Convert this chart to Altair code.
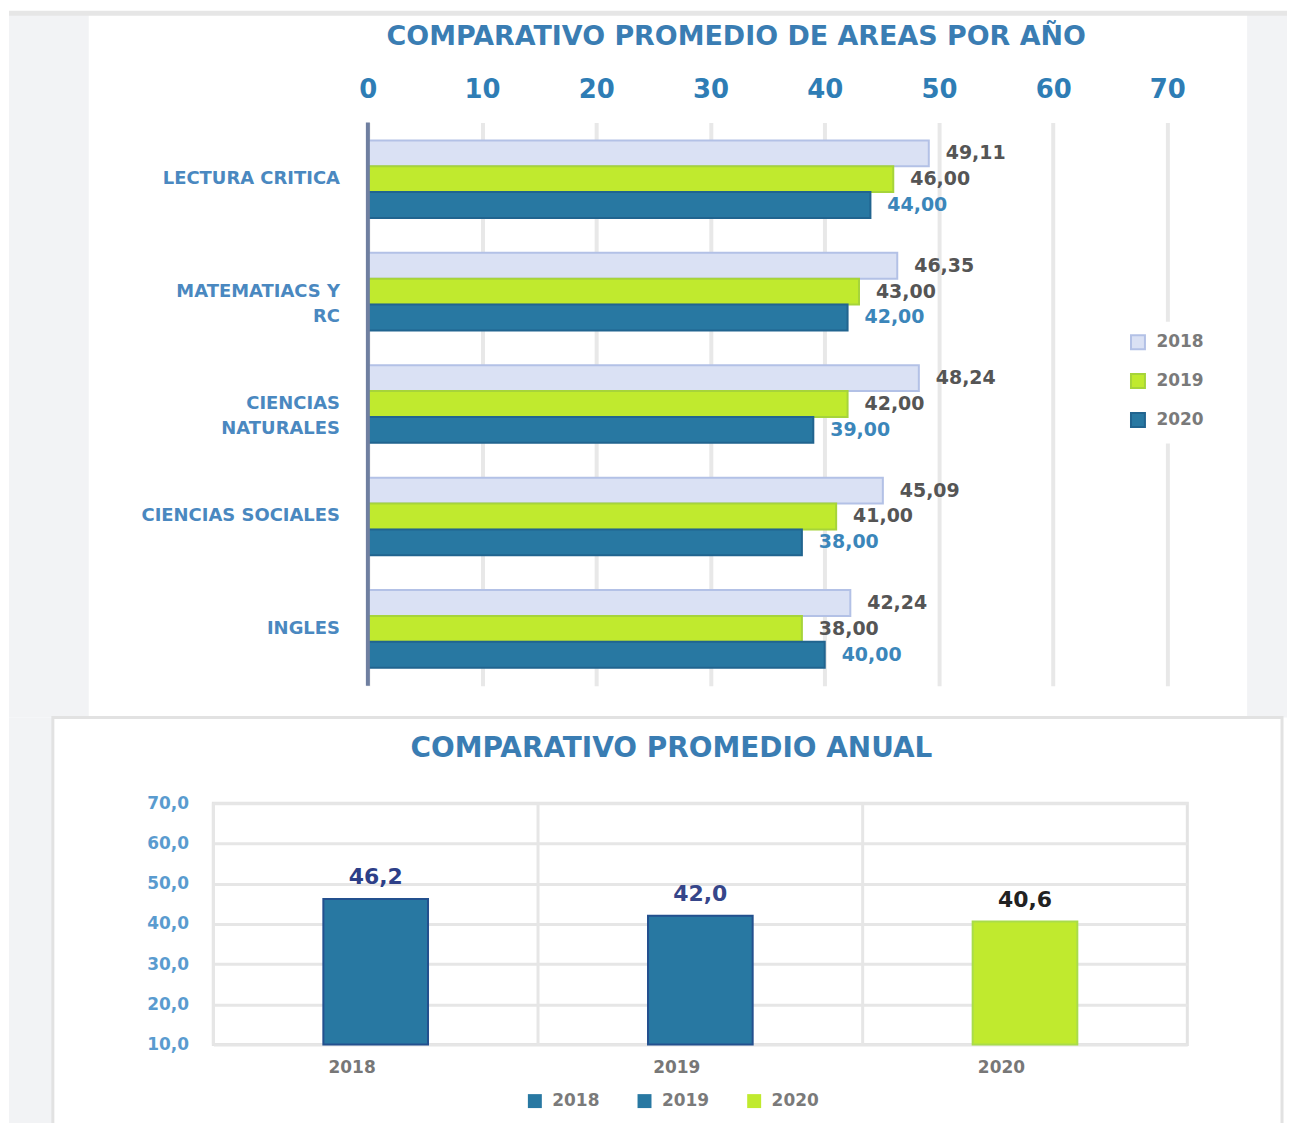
import altair as alt
import pandas as pd

# ---------------- data ----------------
categories = ["LECTURA CRITICA", "MATEMATIACS Y RC", "CIENCIAS NATURALES", "CIENCIAS SOCIALES", "INGLES"]
category_labels = ["LECTURA CRITICA", "MATEMATIACS Y\nRC", "CIENCIAS\nNATURALES", "CIENCIAS SOCIALES", "INGLES"]
years = ["2018", "2019", "2020"]
values_2018 = [49.11, 46.35, 48.24, 45.09, 42.24]
values_2019 = [46.00, 43.00, 42.00, 41.00, 38.00]
values_2020 = [44.00, 42.00, 39.00, 38.00, 40.00]
x_ticks_top = [0, 10, 20, 30, 40, 50, 60, 70]

annual_years = ["2018", "2019", "2020"]
annual_values = [46.2, 42.0, 40.6]
y_ticks_annual = [10, 20, 30, 40, 50, 60, 70]

# ---------------- styles ----------------
FONT = "DejaVu Sans"
top_fill = ["#dae1f4", "#c0ea2e", "#2878a2"]
top_stroke = ["#b3c1e6", "#a6d43a", "#21648f"]
top_label_colors = ["#555555", "#555555", "#3b86ba"]
ann_fill = ["#2878a2", "#2878a2", "#c0ea2e"]
ann_stroke = ["#23508e", "#23508e", "#a9dc4a"]
ann_label_colors = ["#2d3f88", "#36468a", "#222222"]

rows = []
for yr, vals in zip(years, [values_2018, values_2019, values_2020]):
    for c, v in zip(categories, vals):
        rows.append({"cat": c, "year": yr, "value": v})
df_top = pd.DataFrame(rows)
df_cats = pd.DataFrame({"cat": categories, "label": category_labels})
df_ann = pd.DataFrame({"year": annual_years, "value": annual_values})
one = pd.DataFrame({"k": [0]})

# ---------------- top chart ----------------
xs = alt.Scale(domain=[0, 70], range=[155, 957], nice=False, zero=True)
x_axis = alt.Axis(orient="top", values=x_ticks_top, domain=False, ticks=False, grid=True,
                  gridColor="#e8e8e8", gridWidth=4, labelFont=FONT, labelFontSize=26,
                  labelFontWeight="bold", labelColor="#2e7db5", labelPadding=20,
                  labelFlush=False, labelOverlap=False)
ys = alt.Scale(domain=categories, paddingInner=0.31, paddingOuter=0.16)
yenc = alt.Y("cat:N", sort=categories, scale=ys, axis=None, title=None)
yoff = alt.YOffset("year:N", sort=years, scale=alt.Scale(domain=years))

legend_top = alt.Legend(orient="none", legendX=907, legendY=200, direction="vertical", title=None,
                        symbolType="square", symbolSize=196, symbolStrokeWidth=2,
                        labelFont=FONT, labelFontSize=17, labelFontWeight="bold",
                        labelColor="#7a7a7a", rowPadding=16, padding=12, fillColor="white",
                        labelOffset=10)

strip_left = alt.Chart(one).mark_rect(color="#f2f3f5").encode(
    x=alt.value(-205), x2=alt.value(-125), y=alt.value(-111), y2=alt.value(597))
strip_left_low = alt.Chart(one).mark_rect(color="#f2f3f5").encode(
    x=alt.value(-205), x2=alt.value(-161), y=alt.value(597), y2=alt.value(1010))
strip_right = alt.Chart(one).mark_rect(color="#f2f3f5").encode(
    x=alt.value(1037), x2=alt.value(1077), y=alt.value(-111), y2=alt.value(597))
top_line = alt.Chart(one).mark_rect(color="#e6e6e6").encode(
    x=alt.value(-205), x2=alt.value(1077), y=alt.value(-112), y2=alt.value(-107))

bars_top = alt.Chart(df_top).mark_bar(strokeWidth=2).encode(
    x=alt.X("value:Q", scale=xs, axis=x_axis, title=None),
    y=yenc,
    yOffset=yoff,
    fill=alt.Fill("year:N", sort=years, scale=alt.Scale(domain=years, range=top_fill), legend=legend_top),
    stroke=alt.Stroke("year:N", sort=years, scale=alt.Scale(domain=years, range=top_stroke), legend=legend_top),
)

axis_rule = alt.Chart(one).mark_rule(color="#6f7fa0", strokeWidth=4).encode(x=alt.datum(0))

labels_top = alt.Chart(df_top).transform_calculate(
    lbl="replace(format(datum.value, '.2f'), '.', ',')"
).mark_text(align="left", baseline="middle", dx=17, font=FONT, fontSize=19, fontWeight="bold").encode(
    x=alt.X("value:Q"),
    y=yenc,
    yOffset=yoff,
    text="lbl:N",
    color=alt.Color("year:N", sort=years, scale=alt.Scale(domain=years, range=top_label_colors), legend=None),
)

cat_text = alt.Chart(df_cats).mark_text(align="right", baseline="middle", dx=-28, lineBreak="\n",
                                        lineHeight=25, font=FONT, fontSize=18, fontWeight="bold",
                                        color="#4a88c0").encode(
    x=alt.datum(0), y=alt.Y("cat:N", sort=categories), text="label:N")

top = alt.layer(strip_left, strip_left_low, strip_right, top_line, bars_top, axis_rule, labels_top,
                cat_text).resolve_scale(
    color="independent"
).properties(
    width=977, height=565,
    title=alt.TitleParams("COMPARATIVO PROMEDIO DE AREAS POR AÑO", font=FONT, fontSize=27,
                          fontWeight="bold", color="#3a7db3", dx=36, offset=-40),
)

# ---------------- bottom chart ----------------
bx = alt.X("year:N", sort=annual_years,
           scale=alt.Scale(domain=annual_years, paddingInner=0, paddingOuter=0),
           axis=alt.Axis(labelAngle=0, ticks=False, domain=False, grid=False, labelFont=FONT,
                         labelFontSize=17, labelFontWeight="bold", labelColor="#777777",
                         labelPadding=23),
           title=None)
by = alt.Y("value:Q", scale=alt.Scale(domain=[10, 70], nice=False, zero=False),
           axis=alt.Axis(values=y_ticks_annual, labelExpr="replace(format(datum.value, '.1f'), '.', ',')",
                         grid=True, gridColor="#e6e6e6", gridWidth=3, ticks=False, domain=False,
                         labelFont=FONT, labelFontSize=17, labelFontWeight="bold",
                         labelColor="#5a9bcf", labelPadding=25),
           title=None)

legend_bot = alt.Legend(orient="none", legendX=314, legendY=290, direction="horizontal", title=None,
                        symbolType="square", symbolSize=196, symbolStrokeWidth=0,
                        labelFont=FONT, labelFontSize=17, labelFontWeight="bold",
                        labelColor="#7a7a7a", columnPadding=36, labelOffset=9)

panel = alt.Chart(one).mark_rect(fillOpacity=0, stroke="#e2e2e2", strokeWidth=3).encode(
    x=alt.value(-161), x2=alt.value(1072), y=alt.value(-86), y2=alt.value(330))

vgrid = alt.Chart(df_ann).mark_rule(color="#e6e6e6", strokeWidth=3).encode(
    x=alt.X("year:N", sort=annual_years, bandPosition=0))

bars_bot = alt.Chart(df_ann).mark_bar(size=105, strokeWidth=2).encode(
    x=bx, y=by, y2=alt.datum(10),
    fill=alt.Fill("year:N", sort=annual_years, scale=alt.Scale(domain=annual_years, range=ann_fill), legend=legend_bot),
    stroke=alt.Stroke("year:N", sort=annual_years, scale=alt.Scale(domain=annual_years, range=ann_stroke), legend=None),
)

labels_bot = alt.Chart(df_ann).transform_calculate(
    lbl="replace(format(datum.value, '.1f'), '.', ',')"
).mark_text(baseline="bottom", dy=-10, font=FONT, fontSize=22, fontWeight="bold").encode(
    x=alt.X("year:N", sort=annual_years), y=alt.Y("value:Q"), text="lbl:N",
    color=alt.Color("year:N", sort=annual_years, scale=alt.Scale(domain=annual_years, range=ann_label_colors), legend=None),
)

bottom = alt.layer(panel, vgrid, bars_bot, labels_bot).resolve_scale(color="independent").properties(
    width=977, height=242,
    view=alt.ViewBackground(stroke="#e3e3e3", strokeWidth=3),
    title=alt.TitleParams("COMPARATIVO PROMEDIO ANUAL", font=FONT, fontSize=28, fontWeight="bold",
                          color="#3a7db3", dx=-29, offset=-47),
)

chart = alt.vconcat(top, bottom, spacing=118, bounds="flush").resolve_scale(
    fill="independent", stroke="independent", color="independent", x="independent", y="independent"
).resolve_legend(fill="independent", stroke="independent").properties(
    padding=0, background="white"
).configure_view(stroke="transparent")

chart.save("out.html", embed_options={"renderer": "svg", "actions": False})
